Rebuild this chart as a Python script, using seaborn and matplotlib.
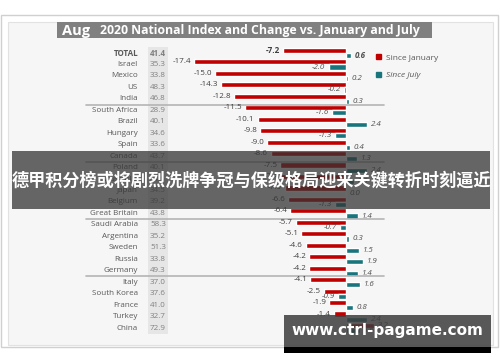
import matplotlib
matplotlib.use('Agg')
import matplotlib.pyplot as plt
import matplotlib.transforms as mtrans
from matplotlib.patches import Rectangle, Patch
import seaborn as sns
import pandas as pd

# chart values (rows 12/13 are covered by the banner, estimated)
countries = ['TOTAL', 'Israel', 'Mexico', 'US', 'India',
             'South Africa', 'Brazil', 'Hungary', 'Spain', 'Canada',
             'Poland', 'Australia', 'Japan', 'Belgium', 'Great Britain',
             'Saudi Arabia', 'Argentina', 'Sweden', 'Russia', 'Germany',
             'Italy', 'South Korea', 'France', 'Turkey', 'China']
index_aug = [41.4, 35.3, 33.8, 48.3, 46.8,
             28.9, 40.1, 34.6, 33.6, 43.7,
             40.1, 44.6, 34.5, 39.2, 43.8,
             58.3, 35.2, 51.3, 33.8, 49.3,
             37.0, 37.6, 41.0, 32.7, 72.9]
since_jan = [-7.2, -17.4, -15.0, -14.3, -12.8,
             -11.5, -10.1, -9.8, -9.0, -8.6,
             -7.5, -7.4, -7.0, -6.6, -6.4,
             -5.7, -5.1, -4.6, -4.2, -4.2,
             -4.1, -2.5, -1.9, -1.4, 3.2]
since_jul = [0.6, -2.0, 0.2, -0.2, 0.3,
             -1.6, 2.4, -1.3, 0.4, 1.3,
             2.4, 0.9, 0.0, -1.3, 1.4,
             -0.7, 0.3, 1.5, 1.9, 1.4,
             1.6, -0.9, 0.8, 2.4, 1.6]
series = ['Since January', 'Since July']
colors = {'Since January': '#C00000', 'Since July': '#17767D'}

sns.set_style('white')
plt.rcParams['font.family'] = ['Open Sans', 'DejaVu Sans']

df = pd.DataFrame({
    'country': countries * 2,
    'value': since_jan + since_jul,
    'series': [series[0]] * len(countries) + [series[1]] * len(countries),
})

W, H = 500, 362
fig = plt.figure(figsize=(W / 100, H / 100), dpi=100)

# background / decoration layer in pixel coords
bg = fig.add_axes([0, 0, 1, 1], zorder=0)
bg.set_xlim(0, W)
bg.set_ylim(H, 0)
bg.axis('off')
bg.add_patch(Rectangle((1, 15), 497, 332, fc='white', ec='#d0d0d0', lw=1))
bg.add_patch(Rectangle((8, 22), 485, 323, fc='#f6f6f6', ec='#e2e2e2', lw=0.8))
bg.add_patch(Rectangle((57, 22), 375, 16, fc='#808080', ec='none'))
bg.text(62, 30.5, 'Aug', color='white', fontsize=10.5, fontweight='bold', va='center')
bg.text(100, 30.5, '2020 National Index and Change vs. January and July',
        color='white', fontsize=8.8, fontweight='bold', va='center')

# bar layer: zero at x=346px, 8.75 px per point; rows every 11.46 px starting at 53px
ax = fig.add_axes([0, 0, 1, 1], zorder=1)
ax.patch.set_alpha(0)
sns.barplot(data=df, y='country', x='value', hue='series', order=countries,
            hue_order=series, palette=colors, width=0.9, orient='h',
            saturation=1, legend=False, ax=ax)
ppu, x0 = 8.75, 346
ax.set_xlim(-x0 / ppu, (W - x0) / ppu)
step, y0 = 11.46, 53
ax.set_ylim((H - y0) / step, -y0 / step)
ax.axis('off')

bt = mtrans.blended_transform_factory(bg.transData, ax.transData)
n = len(countries)

# index column box
ax.add_patch(Rectangle((148, -0.55), 20, n + 0.1, transform=bt,
                       fc='#e6e6e6', ec='none', zorder=0))

# group separators
for k in range(5, n, 5):
    ax.plot([86, 384], [k - 0.5, k - 0.5], transform=bt, color='#b4b4b4', lw=1.2)

for i, c in enumerate(countries):
    w = 'bold' if i == 0 else 'normal'
    ax.text(138, i, c, transform=bt, ha='right', va='center', fontsize=5.8,
            color='#595959', fontweight=w)
    ax.text(158, i, f'{index_aug[i]:.1f}', transform=bt, ha='center', va='center',
            fontsize=5.8, color='#808080', fontweight=w)
    j, l = since_jan[i], since_jul[i]
    ax.text(j - 0.35 if j < 0 else j + 0.4, i - 0.225, f'{j:.1f}',
            ha='right' if j < 0 else 'left', va='center', fontsize=5.8,
            color='#404040', fontweight=w)
    ax.text(l - 0.35 if l < 0 else l + 0.45, i + 0.225, f'{l:.1f}',
            ha='right' if l < 0 else 'left', va='center', fontsize=5.8,
            color='#505050', fontstyle='italic', fontweight=w)

handles = [Patch(color=colors[s]) for s in series]
leg = ax.legend(handles, series, loc='upper left', bbox_to_anchor=(372, 50),
                bbox_transform=bg.transData, frameon=False, fontsize=6,
                handlelength=0.6, handleheight=0.6, handletextpad=0.6,
                labelspacing=1.2, borderpad=0)
for t in leg.get_texts():
    t.set_color('#595959')
leg.get_texts()[1].set_fontstyle('italic')

# overlay banners
top = fig.add_axes([0, 0, 1, 1], zorder=3)
top.set_xlim(0, W)
top.set_ylim(H, 0)
top.axis('off')
top.patch.set_alpha(0)
top.add_patch(Rectangle((12, 151), 478, 58, fc='#333333', alpha=0.74, ec='none'))
top.text(251, 180.5, '德甲积分榜或将剧烈洗牌争冠与保级格局迎来关键转折时刻逼近',
         ha='center', va='center', color='white', fontsize=12.3, fontweight='bold',
         family=['Noto Sans CJK SC', 'DejaVu Sans'])
top.add_patch(Rectangle((284, 315), 207, 32, fc='#3c3c3c', alpha=0.85, ec='none'))
top.add_patch(Rectangle((284, 347), 207, 6, fc='black', ec='none'))
top.text(387, 331, 'www.ctrl-pagame.com', ha='center', va='center', color='white',
         fontsize=11, fontweight='bold', family=['DejaVu Sans'])

fig.savefig('out.png', dpi=100)
